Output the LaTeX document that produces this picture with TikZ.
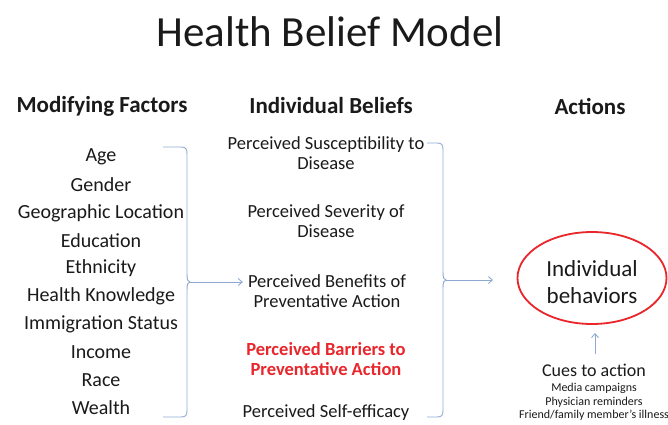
\documentclass[tikz,border=0pt]{standalone}
\usepackage{fontspec}
\setmainfont{Carlito}
\usetikzlibrary{arrows.meta,shapes.geometric}
\definecolor{bracecol}{HTML}{8FAAD2}
\definecolor{hbred}{HTML}{E8262B}
\definecolor{ink}{HTML}{1A1A1A}
\begin{document}
\begin{tikzpicture}[x=1pt,y=-1pt,
  txt/.style={inner sep=0pt, align=center, text=ink},
  head/.style={txt, font=\fontsize{23}{26}\selectfont\bfseries},
  factor/.style={txt, font=\fontsize{20}{22}\selectfont},
  belief/.style={txt, font=\fontsize{18.5}{20}\selectfont},
  bracket/.style={draw=bracecol, line width=0.9pt},
  conn/.style={draw=bracecol, line width=0.9pt, -{Straight Barb[length=4pt,width=7pt]}}]
\useasboundingbox (0,0) rectangle (668,424);
\fill[white] (0,0) rectangle (668,424);

% title and column headings
\node[txt, font=\fontsize{43}{48}\selectfont] (title) at (330,32) {Health Belief Model};
\node[head] (hmod) at (102,106) {Modifying Factors};
\node[head] (hind) at (331,106) {Individual Beliefs};
\node[head] (hact) at (590,106) {Actions};

% modifying factors
\foreach \t [count=\i from 0] in {Age,Gender,Geographic Location,Education,Ethnicity,Health Knowledge,Immigration Status,Income,Race,Wealth}
  \node[factor] (f\i) at (101,157+27.9*\i) {\t};

% individual beliefs
\node[belief] (b1) at (326,153) {Perceived Susceptibility to\\Disease};
\node[belief] (b2) at (326,221) {Perceived Severity of\\Disease};
\node[belief] (b3) at (327,291) {Perceived Benefits of\\Preventative Action};
\node[belief, text=hbred, font=\fontsize{18.5}{20}\selectfont\bfseries] (b4) at (326,359) {Perceived Barriers to\\Preventative Action};
\node[belief] (b5) at (326,413) {Perceived Self-efficacy};

% action
\node[draw=hbred, line width=1.8pt, ellipse, minimum width=149pt, minimum height=92pt, inner sep=0pt] (beh) at (592,278) {};
\node[txt, font=\fontsize{23}{27}\selectfont] (behtxt) at (beh.center) [yshift=-4pt] {Individual\\behaviors};
\node[txt, font=\fontsize{18}{20}\selectfont] (cues) at (594,370) {Cues to action};
\node[txt, font=\fontsize{12}{13.6}\selectfont, anchor=north] (cuelist) at (594,383) {Media campaigns\\Physician reminders\\Friend/family member's illness};

% first brace
\coordinate (t1) at (190,282);
\draw[bracket] (163,147) -- (181,147) .. controls (186,147) and (187,149) .. (187,154)
  -- (187,274) .. controls (187,280) and (188,282) .. (t1)
  .. controls (188,282) and (187,284) .. (187,290)
  -- (187,410) .. controls (187,415) and (186,417) .. (181,417) -- (163,417);
\draw[conn, shorten >=5pt] (t1) -- (b3.west |- t1);

% second brace
\coordinate (t2) at (446,280);
\coordinate (a2) at (493,280);
\draw[bracket] (427,143) -- (437,143) .. controls (442,143) and (443,145) .. (443,150)
  -- (443,272) .. controls (443,278) and (444,280) .. (t2)
  .. controls (444,280) and (443,282) .. (443,288)
  -- (443,410) .. controls (443,415) and (442,417) .. (437,417) -- (427,417);
\draw[conn] (t2) -- (a2);

% cue arrow
\coordinate (c0) at (595,354);
\coordinate (c1) at (595,333);
\draw[conn] (c0) -- (c1);
\end{tikzpicture}
\end{document}
